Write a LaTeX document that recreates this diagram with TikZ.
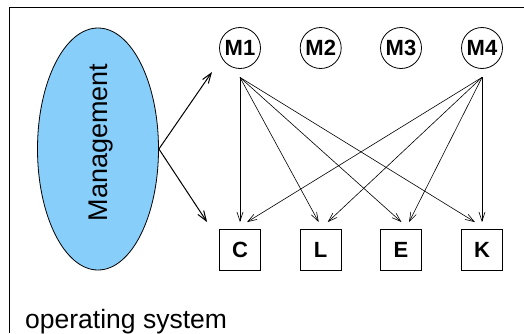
\documentclass[tikz,border=0pt]{standalone}
\usepackage{fontspec}
\setmainfont{Liberation Sans}
\usetikzlibrary{shapes.geometric,arrows.meta}
\definecolor{mgmtblue}{RGB}{135,206,250}
\tikzset{
  mnode/.style={circle,draw,line width=0.8pt,minimum size=41pt,inner sep=0pt,font=\fontsize{22}{22}\selectfont\bfseries},
  bnode/.style={rectangle,draw,line width=0.8pt,minimum size=41pt,inner sep=0pt,font=\fontsize{22}{22}\selectfont\bfseries},
  thinarrow/.style={line width=0.6pt,-{Straight Barb[length=9pt,width=6pt]}},
  thickarrow/.style={line width=1pt,-{Straight Barb[length=10pt,width=7pt]}},
}
\begin{document}
\begin{tikzpicture}[x=1pt,y=1pt]
\useasboundingbox (0,0) rectangle (524,333);
% frame
\draw[line width=0.9pt] (524,326) -- (9,326) -- (9,0);
% management
\node[ellipse,draw,fill=mgmtblue,line width=0.8pt,minimum width=121pt,minimum height=242pt,inner sep=0pt] (mg) at (98,184) {};
\node[rotate=90,anchor=base,inner sep=0pt,font=\fontsize{27}{27}\selectfont] (mgt) at (107,190.5) {Management};
% M nodes
\node[mnode] (M1) at (240,285) {M1};
\node[mnode] (M2) at (320.7,285) {M2};
\node[mnode] (M3) at (401,285) {M3};
\node[mnode] (M4) at (482,285) {M4};
% boxes
\node[bnode] (C) at (240,83) {C};
\node[bnode] (L) at (320.7,83) {L};
\node[bnode] (E) at (401,83) {E};
\node[bnode] (K) at (482,83) {K};
% origins
\coordinate (M1o) at ([yshift=-8.5pt]M1.south);
\coordinate (M4o) at ([yshift=-8.5pt]M4.south);
% arrows from M1
\draw[thinarrow] (M1o) -- ([yshift=7pt]C.north);
\draw[thinarrow] (M1o) -- ([xshift=-2pt,yshift=7pt]L.north);
\draw[thinarrow] (M1o) -- ([xshift=0.5pt,yshift=7pt]E.north);
\draw[thinarrow] (M1o) -- ([xshift=-7pt,yshift=7pt]K.north);
% arrows from M4
\draw[thinarrow] (M4o) -- ([xshift=7pt,yshift=7pt]C.north);
\draw[thinarrow] (M4o) -- ([xshift=7pt,yshift=7pt]L.north);
\draw[thinarrow] (M4o) -- ([xshift=8pt,yshift=7pt]E.north);
\draw[thinarrow] (M4o) -- ([yshift=7pt]K.north);
% management arrows
\draw[thickarrow] (mg.east) -- ([xshift=-28pt,yshift=-24pt]M1.center);
\draw[thickarrow] (mg.east) -- ([xshift=-12pt,yshift=7pt]C.north west);
% label
\node[anchor=base west,inner sep=0pt,font=\fontsize{26.5}{26.5}\selectfont] (os) at (25,5) {operating system};
\end{tikzpicture}
\end{document}
